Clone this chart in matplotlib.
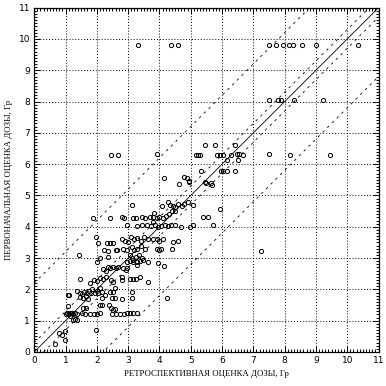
import numpy as np
import matplotlib
matplotlib.use("Agg")
import matplotlib.pyplot as plt
from matplotlib.ticker import MultipleLocator

# retrospective dose (x) vs initial dose estimate (y), Gy
x_retro = [
    3.33, 4.37, 4.58, 7.5, 7.72, 7.96, 8.14, 8.28, 8.55, 9.0, 10.35,
    7.5, 7.8, 7.87, 8.3, 9.22,
    5.47, 5.77, 6.42,
    2.45, 2.67, 3.91, 5.16, 5.23, 5.31, 5.84, 5.93, 6.02, 6.29, 6.47, 6.54, 6.68, 7.5, 8.17, 9.44,
    6.15, 6.52,
    5.34, 5.97, 6.02, 6.15, 6.42,
    4.15, 4.8, 4.87, 4.93, 4.95, 4.63, 5.46, 5.48, 5.66, 5.69,
    5.95, 5.39, 5.55, 5.71, 5.07, 7.25,
    3.11, 4.27, 4.09, 4.35, 4.45, 4.5, 4.6, 4.71, 4.8, 4.9, 5.08, 4.39, 4.5,
    1.89, 2.42, 2.8, 2.87, 3.15, 3.25, 3.43, 3.55, 3.7, 3.79, 3.92, 4.0, 4.12, 4.2, 4.3, 3.84,
    2.95, 3.27, 3.45, 3.6, 3.72, 3.85, 3.95, 4.05, 4.17, 4.27, 4.38, 4.5, 4.7, 4.98, 3.79,
    1.99, 2.05, 2.32, 2.42, 2.53, 2.8, 2.9, 3.0, 3.1, 3.2, 3.3, 3.4, 3.5, 3.65, 3.8, 3.92, 4.0, 4.13, 4.45, 4.61,
    2.23, 2.35, 2.61, 2.66, 2.83, 2.95, 3.11, 3.2, 3.3, 3.4, 3.54, 3.92, 4.0, 4.06, 4.39,
    1.44, 2.1, 2.37, 3.06, 3.12, 3.17, 3.25, 3.35, 3.45, 3.49,
    2.0, 2.95, 3.06, 3.17, 3.27, 3.38, 3.65, 3.27, 3.97, 4.16,
    2.2, 2.3, 2.42, 2.53, 2.61, 2.69, 2.85, 2.93, 2.96, 2.36,
    1.46, 1.78, 1.9, 2.0, 2.1, 2.2, 2.3, 2.45, 2.53, 2.79, 2.79, 3.06, 3.17, 3.25, 3.38, 3.62,
    1.36, 1.45, 1.52, 1.6, 1.68, 1.75, 1.8, 1.85, 1.95, 2.0, 2.05, 2.1, 2.16, 2.42, 2.53, 2.58, 1.12, 2.26, 3.14, 1.09,
    1.45, 1.57, 1.65, 1.73, 2.16, 2.47, 2.58, 2.79, 3.12, 4.23,
    1.09, 2.1, 2.16, 2.4, 1.57, 1.65, 2.45, 2.53, 2.58,
    1.0, 1.05, 1.1, 1.15, 1.2, 1.25, 1.3, 1.36, 1.52, 1.62, 1.78, 1.9, 2.0, 2.1,
    2.47, 2.6, 2.75, 2.88, 2.96, 3.06, 3.17, 3.27,
    1.25, 1.14, 1.3, 1.38,
    0.98, 0.88, 0.8, 1.97, 0.68, 0.99,
]
y_init = [
    9.8, 9.8, 9.8, 9.8, 9.8, 9.8, 9.8, 9.8, 9.8, 9.8, 9.8,
    8.05, 8.05, 8.05, 8.05, 8.05,
    6.6, 6.6, 6.6,
    6.3, 6.3, 6.33, 6.3, 6.3, 6.3, 6.3, 6.3, 6.3, 6.3, 6.33, 6.33, 6.3, 6.33, 6.28, 6.28,
    6.13, 6.13,
    5.78, 5.78, 5.78, 5.78, 5.78,
    5.57, 5.6, 5.55, 5.47, 5.42, 5.36, 5.44, 5.4, 5.4, 5.34,
    4.57, 4.3, 4.3, 4.05, 4.07, 3.23,
    4.7, 4.78, 4.65, 4.7, 4.67, 4.62, 4.72, 4.68, 4.72, 4.78, 4.7, 4.5, 4.52,
    4.28, 4.28, 4.3, 4.28, 4.28, 4.28, 4.3, 4.28, 4.3, 4.32, 4.28, 4.3, 4.28, 4.35, 4.4, 4.43,
    4.05, 4.02, 4.05, 4.05, 4.02, 4.05, 4.0, 4.03, 4.05, 4.02, 4.05, 4.05, 4.0, 4.0, 4.16,
    3.68, 3.49, 3.49, 3.49, 3.49, 3.6, 3.55, 3.5, 3.67, 3.6, 3.65, 3.55, 3.67, 3.6, 3.6, 3.62, 3.55, 3.6, 3.53, 3.55,
    3.27, 3.24, 3.27, 3.27, 3.3, 3.27, 3.35, 3.25, 3.3, 3.38, 3.3, 3.3, 3.25, 3.3, 3.28,
    3.1, 3.0, 3.04, 3.1, 3.0, 2.95, 3.05, 3.1, 3.0, 2.95,
    2.86, 2.89, 2.9, 2.89, 2.89, 2.9, 2.89, 2.78, 2.83, 2.76,
    2.65, 2.6, 2.67, 2.73, 2.67, 2.73, 2.67, 2.62, 2.67, 2.7,
    2.32, 2.2, 2.3, 2.27, 2.36, 2.33, 2.38, 2.3, 2.25, 2.41, 2.3, 2.32, 2.32, 2.33, 2.4, 2.25,
    1.95, 1.9, 1.85, 1.92, 1.87, 1.95, 1.9, 2.0, 1.9, 1.95, 1.88, 2.05, 1.92, 1.92, 1.92, 2.04, 1.82, 1.82, 1.91, 1.83,
    1.75, 1.71, 1.8, 1.7, 1.71, 1.71, 1.71, 1.7, 1.71, 1.71,
    1.48, 1.51, 1.5, 1.5, 1.4, 1.4, 1.42, 1.34, 1.38,
    1.22, 1.25, 1.2, 1.23, 1.26, 1.2, 1.25, 1.22, 1.24, 1.22, 1.22, 1.22, 1.22, 1.24,
    1.22, 1.22, 1.22, 1.22, 1.24, 1.24, 1.24, 1.26,
    1.02, 1.14, 1.05, 1.02,
    0.68, 0.55, 0.6, 0.7, 0.25, 0.39,
]

x_label = "РЕТРОСПЕКТИВНАЯ ОЦЕНКА ДОЗЫ, Гр"
y_label = "ПЕРВОНАЧАЛЬНАЯ ОЦЕНКА ДОЗЫ, Гр"
ticks = list(range(0, 12))
near_band = 0.3
wide_band = 2.2

fig = plt.figure(figsize=(3.86, 3.86), dpi=100)
ax = fig.add_axes([0.0886, 0.0881, 0.892, 0.892])

ax.set_xlim(0, 11)
ax.set_ylim(0, 11)

line_x = np.array([0, 11])
ax.plot(line_x, line_x, color="black", lw=0.6)
for off in (near_band, -near_band, wide_band, -wide_band):
    ax.plot(line_x, line_x + off, color="black", lw=0.6, dashes=(3, 5))

ax.plot(x_retro, y_init, "o", mfc="none", mec="black", ms=3.0, mew=0.7)

ax.set_xticks(ticks)
ax.set_yticks(ticks)
ax.xaxis.set_minor_locator(MultipleLocator(0.1))
ax.yaxis.set_minor_locator(MultipleLocator(0.1))
ax.tick_params(which="both", direction="in", top=True, right=True, width=0.7)
ax.tick_params(which="major", length=4, labelsize=6.5, pad=3)
ax.tick_params(which="minor", length=2)
ax.grid(True, which="major", color="black", linestyle=(0, (1, 2)), lw=0.7)
for s in ax.spines.values():
    s.set_linewidth(0.9)

ax.set_xlabel(x_label, family="Liberation Serif", fontsize=6.3)
ax.set_ylabel(y_label, family="Liberation Serif", fontsize=6.3)
ax.xaxis.set_label_coords(0.5, -0.052)
ax.yaxis.set_label_coords(-0.062, 0.5)

fig.savefig("out.png", dpi=100)
